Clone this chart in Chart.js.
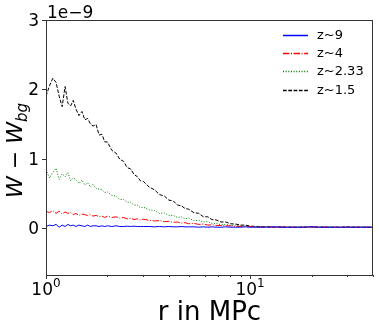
<!DOCTYPE html>
<html>
<head>
<meta charset="utf-8">
<script src="https://cdn.jsdelivr.net/npm/chart.js@4.4.1/dist/chart.umd.min.js"></script>
<style>
html,body{margin:0;padding:0;background:#fff;}
#wrap{width:379px;height:329px;position:relative;}
</style>
</head>
<body>
<div id="wrap"><canvas id="c" width="379" height="329"></canvas></div>
<script>
// r values (MPc)
const rValues = [1.00,1.04,1.08,1.12,1.16,1.20,1.24,1.28,1.32,1.36,1.40,1.45,1.50,1.55,1.60,1.65,1.70,1.76,1.82,1.88,1.94,2.00,2.1,2.2,2.3,2.4,2.5,2.6,2.7,2.8,2.9,3.0,3.2,3.4,3.6,3.8,4.0,4.2,4.4,4.6,4.8,5.0,5.3,5.6,5.9,6.2,6.5,6.8,7.2,7.6,8.0,8.5,9.0,9.5,10,11,12,13,14,15,16,18,20,22,24,26,28,30,33,36,40];
// W - W_bg in units of 1e-9
const z9 = [0.02,0.04,0.03,0.05,0.01,0.04,0.02,0.05,0.03,0.04,0.02,0.04,0.03,0.02,0.04,0.02,0.03,0.03,0.02,0.03,0.02,0.03,0.02,0.03,0.02,0.02,0.025,0.02,0.025,0.02,0.02,0.02,0.02,0.015,0.02,0.015,0.02,0.015,0.015,0.02,0.015,0.015,0.015,0.01,0.015,0.01,0.015,0.01,0.01,0.015,0.01,0.01,0.01,0.015,0.01,0.01,0.01,0.015,0.01,0.01,0.01,0.01,0.015,0.01,0.01,0.01,0.01,0.01,0.01,0.01,0.01];
const z4 = [0.24,0.22,0.25,0.21,0.24,0.20,0.23,0.21,0.22,0.19,0.21,0.18,0.20,0.19,0.18,0.19,0.17,0.18,0.16,0.17,0.15,0.17,0.15,0.16,0.14,0.15,0.13,0.14,0.12,0.13,0.115,0.125,0.11,0.10,0.105,0.09,0.095,0.08,0.085,0.07,0.075,0.06,0.065,0.05,0.055,0.04,0.045,0.035,0.035,0.03,0.03,0.02,0.025,0.015,0.02,0.01,0.015,0.01,0.01,0.015,0.01,0.01,0.01,0.015,0.01,0.01,0.01,0.01,0.01,0.01,0.01];
const z233 = [0.84,0.72,0.80,0.86,0.70,0.78,0.74,0.80,0.68,0.72,0.70,0.64,0.69,0.62,0.65,0.59,0.63,0.57,0.56,0.55,0.51,0.52,0.47,0.46,0.41,0.41,0.37,0.37,0.33,0.33,0.29,0.30,0.26,0.25,0.21,0.215,0.18,0.18,0.15,0.16,0.13,0.14,0.105,0.11,0.085,0.09,0.065,0.065,0.045,0.05,0.035,0.04,0.025,0.03,0.02,0.015,0.02,0.01,0.015,0.01,0.01,0.015,0.01,0.01,0.015,0.01,0.01,0.01,0.01,0.015,0.01];
const z15 = [1.90,2.05,2.16,2.10,1.90,1.75,2.04,1.80,1.76,1.84,1.72,1.62,1.68,1.56,1.58,1.50,1.47,1.49,1.34,1.35,1.24,1.24,1.12,1.08,0.99,0.96,0.87,0.85,0.77,0.74,0.68,0.67,0.59,0.55,0.48,0.46,0.40,0.39,0.33,0.32,0.28,0.27,0.22,0.21,0.16,0.16,0.12,0.115,0.085,0.085,0.06,0.055,0.04,0.04,0.025,0.02,0.015,0.01,0.015,0.01,0.01,0.01,0.015,0.01,0.01,0.01,0.01,0.015,0.01,0.01,0.01];
const seriesLabels = ['z~9','z~4','z~2.33','z~1.5'];
const yTickValues = [0,1,2,3];
const xTickValues = [1,10];
const xTickLabels = [['10','0'],['10','1']];
const yOffsetText = '1e\u22129';
const xTitle = 'r in MPc';

const styles = [
  {color:'#0000ff', dash:[]},
  {color:'#ff0000', dash:[6.4,1.6,1,1.6]},
  {color:'#008000', dash:[1,1.65]},
  {color:'#000000', dash:[3.7,1.6]}
];
const seriesData = [z9,z4,z233,z15];

const datasets = seriesData.map((arr,i)=>({
  label: seriesLabels[i],
  data: arr.map((v,j)=>({x:rValues[j], y:v})),
  borderColor: styles[i].color,
  borderDash: styles[i].dash,
  borderWidth: 1,
  pointRadius: 0,
  tension: 0,
  fill: false
}));

const FONT = "'DejaVu Sans', sans-serif";

const decor = {
  id:'decor',
  afterDraw(chart){
    const ctx = chart.ctx, a = chart.chartArea;
    const xs = chart.scales.x, ys = chart.scales.y;
    ctx.save();
    // frame
    ctx.strokeStyle = '#333';
    ctx.lineWidth = 1;
    ctx.strokeRect(Math.round(a.left)+0.5, Math.round(a.top)+0.5, Math.round(a.right-a.left)-1, Math.round(a.bottom-a.top));
    // y ticks
    ctx.fillStyle = '#000';
    ctx.font = '17px ' + FONT;
    ctx.textAlign = 'right';
    ctx.textBaseline = 'middle';
    yTickValues.forEach(v=>{
      const y = Math.round(ys.getPixelForValue(v))+0.5;
      ctx.beginPath(); ctx.moveTo(a.left-4, y); ctx.lineTo(a.left, y); ctx.stroke();
      ctx.fillText(String(v), a.left-7, y+1);
    });
    // x major/minor ticks
    for (let d=1; d<=10; d*=10){
      for (let k=1;k<10;k++){
        const v = d*k;
        if (v < xs.min || v > xs.max) continue;
        const x = Math.round(xs.getPixelForValue(v))+0.5;
        const len = (k===1)?4:2;
        ctx.beginPath(); ctx.moveTo(x, a.bottom); ctx.lineTo(x, a.bottom+len); ctx.stroke();
      }
    }
    // x tick labels with superscript
    xTickValues.forEach((v,i)=>{
      const x = xs.getPixelForValue(v);
      ctx.font = '17px ' + FONT;
      const base = xTickLabels[i][0], sup = xTickLabels[i][1];
      const wb = ctx.measureText(base).width;
      ctx.font = '12px ' + FONT;
      const wsup = ctx.measureText(sup).width;
      const total = wb + wsup;
      const x0 = x - total/2;
      ctx.textAlign = 'left';
      ctx.textBaseline = 'alphabetic';
      ctx.font = '17px ' + FONT;
      ctx.fillText(base, x0, a.bottom+20);
      ctx.font = '12px ' + FONT;
      ctx.fillText(sup, x0+wb, a.bottom+12);
    });
    // offset text
    ctx.font = '17px ' + FONT;
    ctx.textAlign = 'left';
    ctx.textBaseline = 'alphabetic';
    ctx.fillText(yOffsetText, a.left+1, a.top-2);
    // x title
    ctx.font = '26px ' + FONT;
    ctx.textAlign = 'center';
    ctx.fillText(xTitle, (a.left+a.right)/2, a.bottom+45);
    // y title rotated: W − W_bg
    ctx.save();
    ctx.translate(22, (a.top+a.bottom)/2 + 3);
    ctx.rotate(-Math.PI/2);
    const big = 'italic 22px ' + FONT, reg = '22px ' + FONT, small = 'italic 15px ' + FONT;
    const parts = [[big,'W',0],[reg,' \u2212 ',0],[big,'W',0],[small,'bg',5]];
    let tw = 0;
    parts.forEach(p=>{ctx.font=p[0]; p.push(ctx.measureText(p[1]).width); tw+=p[3];});
    let xx = -tw/2;
    ctx.textAlign = 'left';
    parts.forEach(p=>{ctx.font=p[0]; ctx.fillText(p[1], xx, p[2]); xx+=p[3];});
    ctx.restore();
    // legend
    const ly = [35,53,71,90];
    ctx.font = '13px ' + FONT;
    ctx.textBaseline = 'middle';
    ctx.textAlign = 'left';
    datasets.forEach((ds,i)=>{
      ctx.strokeStyle = ds.borderColor;
      ctx.setLineDash(ds.borderDash);
      ctx.lineWidth = 1.5;
      ctx.beginPath(); ctx.moveTo(283, ly[i]+0.5); ctx.lineTo(308, ly[i]+0.5); ctx.stroke();
      ctx.setLineDash([]);
      ctx.fillStyle = '#000';
      ctx.fillText(ds.label, 317, ly[i]+1);
    });
    ctx.restore();
  }
};

new Chart(document.getElementById('c'), {
  type:'line',
  data:{datasets},
  options:{
    responsive:false,
    animation:false,
    parsing:true,
    layout:{padding:{top:20,right:6,left:0,bottom:0}},
    plugins:{legend:{display:false}, tooltip:{enabled:false}},
    scales:{
      x:{
        type:'logarithmic', min:1, max:40,
        grid:{display:false}, border:{display:false},
        ticks:{display:false},
        afterFit(s){ s.height = 54; }
      },
      y:{
        type:'linear', min:-0.68, max:3,
        grid:{display:false}, border:{display:false},
        ticks:{display:false},
        afterFit(s){ s.width = 46; }
      }
    }
  },
  plugins:[decor]
});
</script>
</body>
</html>
